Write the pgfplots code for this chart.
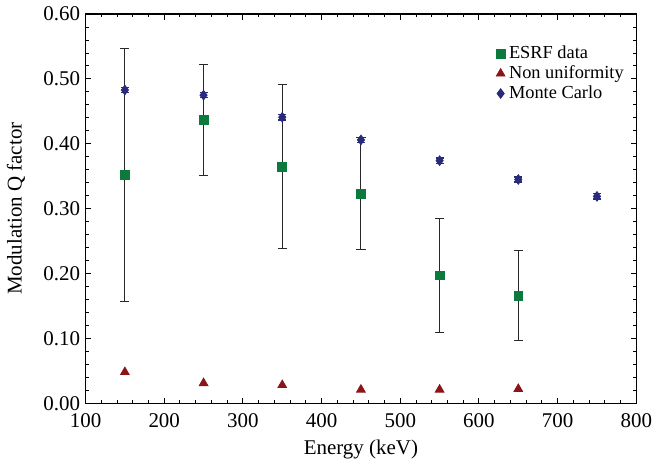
\documentclass[border=0pt]{standalone}
\usepackage{pgfplots}
\pgfplotsset{compat=1.18}
\usepackage{fontspec}
\setmainfont{Liberation Serif}
\definecolor{esrf}{RGB}{12,122,60}
\definecolor{nonu}{RGB}{138,20,24}
\definecolor{mc}{RGB}{42,42,125}
\definecolor{ebar}{RGB}{40,40,40}
\begin{document}
\fontsize{10.5bp}{12bp}\selectfont
\begin{tikzpicture}
\begin{axis}[
  scale only axis,
  width=276bp, height=195bp,
  xmin=100, xmax=800, ymin=0, ymax=0.6,
  xtick={100,200,...,800},
  ytick={0,0.1,...,0.6},
  minor x tick num=4, minor y tick num=4,
  tick align=inside,
  major tick length=2.8bp, minor tick length=1.7bp,
  tick style={black, line width=0.5pt},
  axis line style={line width=0.7pt},
  /pgf/number format/assume math mode=true,
  yticklabel style={xshift=1bp, /pgf/number format/.cd, fixed, fixed zerofill, precision=2},
  xticklabel style={yshift=-1.5bp, /pgf/number format/1000 sep={}},
  xlabel={Energy (keV)}, ylabel={Modulation Q factor},
  xlabel style={yshift=1bp},
  ylabel style={yshift=2bp},
  legend style={draw=none, fill=none, at={(0.745,0.93)}, anchor=north west,
    font=\fontsize{9.2bp}{10bp}\selectfont, row sep=-2bp, inner sep=0bp},
  legend cell align=left,
  legend image code/.code={\draw[#1] plot coordinates {(0.12cm,0cm)};},
]
\addplot[only marks, mark=square*, mark size=2.2bp, color=esrf,
  error bars/.cd, y dir=both, y explicit,
  error bar style={ebar, line width=0.5pt}, error mark options={rotate=90, mark size=2.3bp, ebar, line width=0.5pt}]
  coordinates {
  (150,0.352) +- (0,0.195)
  (250,0.437) +- (0,0.086)
  (350,0.365) +- (0,0.127)
  (450,0.323) +- (0,0.086)
  (550,0.197) +- (0,0.088)
  (650,0.166) +- (0,0.069)
};
\addlegendentry{ESRF data}
\addplot[only marks, mark=triangle*, mark size=2.5bp, color=nonu]
  coordinates {(150,0.048) (250,0.031) (350,0.028) (450,0.021) (550,0.021) (650,0.022)};
\addlegendentry{Non uniformity}
\addplot[only marks, mark=diamond*, mark size=2.4bp, color=mc,
  error bars/.cd, y dir=both, y explicit,
  error bar style={mc, line width=0.7pt}, error mark options={rotate=90, mark size=2bp, mc, line width=0.7pt}]
  coordinates {
  (150,0.483) +- (0,0.004)
  (250,0.475) +- (0,0.004)
  (350,0.441) +- (0,0.004)
  (450,0.406) +- (0,0.004)
  (550,0.374) +- (0,0.004)
  (650,0.345) +- (0,0.004)
  (750,0.319) +- (0,0.004)
};
\addlegendentry{Monte Carlo}
\end{axis}
\end{tikzpicture}
\end{document}
